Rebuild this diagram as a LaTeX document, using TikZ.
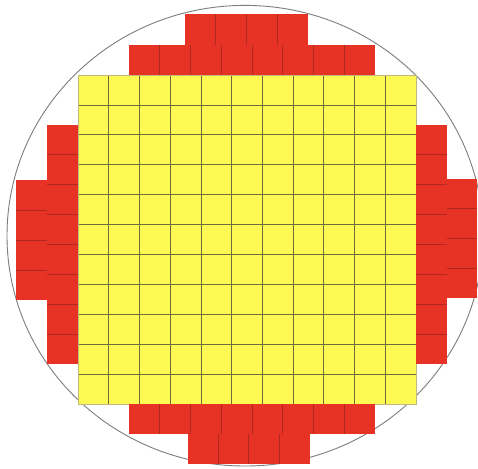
\documentclass[tikz,border=0pt]{standalone}
\definecolor{wred}{RGB}{230,51,38}
\definecolor{wredline}{RGB}{178,40,32}
\definecolor{wyellow}{RGB}{252,250,82}
\definecolor{wgrid}{RGB}{112,108,62}
\definecolor{wyedge}{RGB}{190,188,120}
\definecolor{wedge}{RGB}{125,125,125}
\newcommand\redrow[5]{% x0,x1,y0,y1,n : row of n cells
  \fill[wred] (#1,#3) rectangle (#2,#4);
  \foreach \k in {1,...,#5}{\draw[redsep] ({#1+(#2-#1)*\k/(#5+1)},#3) -- ({#1+(#2-#1)*\k/(#5+1)},#4);}}
\newcommand\redcol[5]{% x0,x1,y0,y1,n : column of n cells
  \fill[wred] (#1,#3) rectangle (#2,#4);
  \foreach \k in {1,...,#5}{\draw[redsep] (#1,{#3+(#4-#3)*\k/(#5+1)}) -- (#2,{#3+(#4-#3)*\k/(#5+1)});}}
\begin{document}
\begin{tikzpicture}[x=1pt,y=-1pt,
  redsep/.style={wredline,line width=0.8pt},
  gridline/.style={wgrid,line width=0.8pt},
  waferedge/.style={wedge,line width=0.9pt}]
\useasboundingbox (0,0) rectangle (478,468);
\fill[white] (0,0) rectangle (478,468);
% wafer outline
\draw[waferedge] (245,235.7) ellipse [x radius=238pt, y radius=230.3pt];
% yellow good dies 11 x 11
\fill[wyellow] (78,75) rectangle (416,404);
\foreach \i in {1,...,10}{
  \draw[gridline] ({78+\i*338/11},75) -- ({78+\i*338/11},404);
  \draw[gridline] (78,{75+\i*329/11}) -- (416,{75+\i*329/11});
}
\draw[wyedge,line width=0.6pt] (78,75) rectangle (416,404);
% red edge dies
\redrow{185}{308}{14.5}{45}{3}
\redrow{129}{375}{45}{75}{7}
\redrow{129}{375}{404}{434}{7}
\redrow{187.7}{310}{434}{464}{3}
\redcol{47}{78}{125}{364}{7}
\redcol{16}{47}{180}{300}{3}
\redcol{416}{447}{125}{364}{7}
\redcol{447}{477}{179}{298}{3}
\end{tikzpicture}
\end{document}
